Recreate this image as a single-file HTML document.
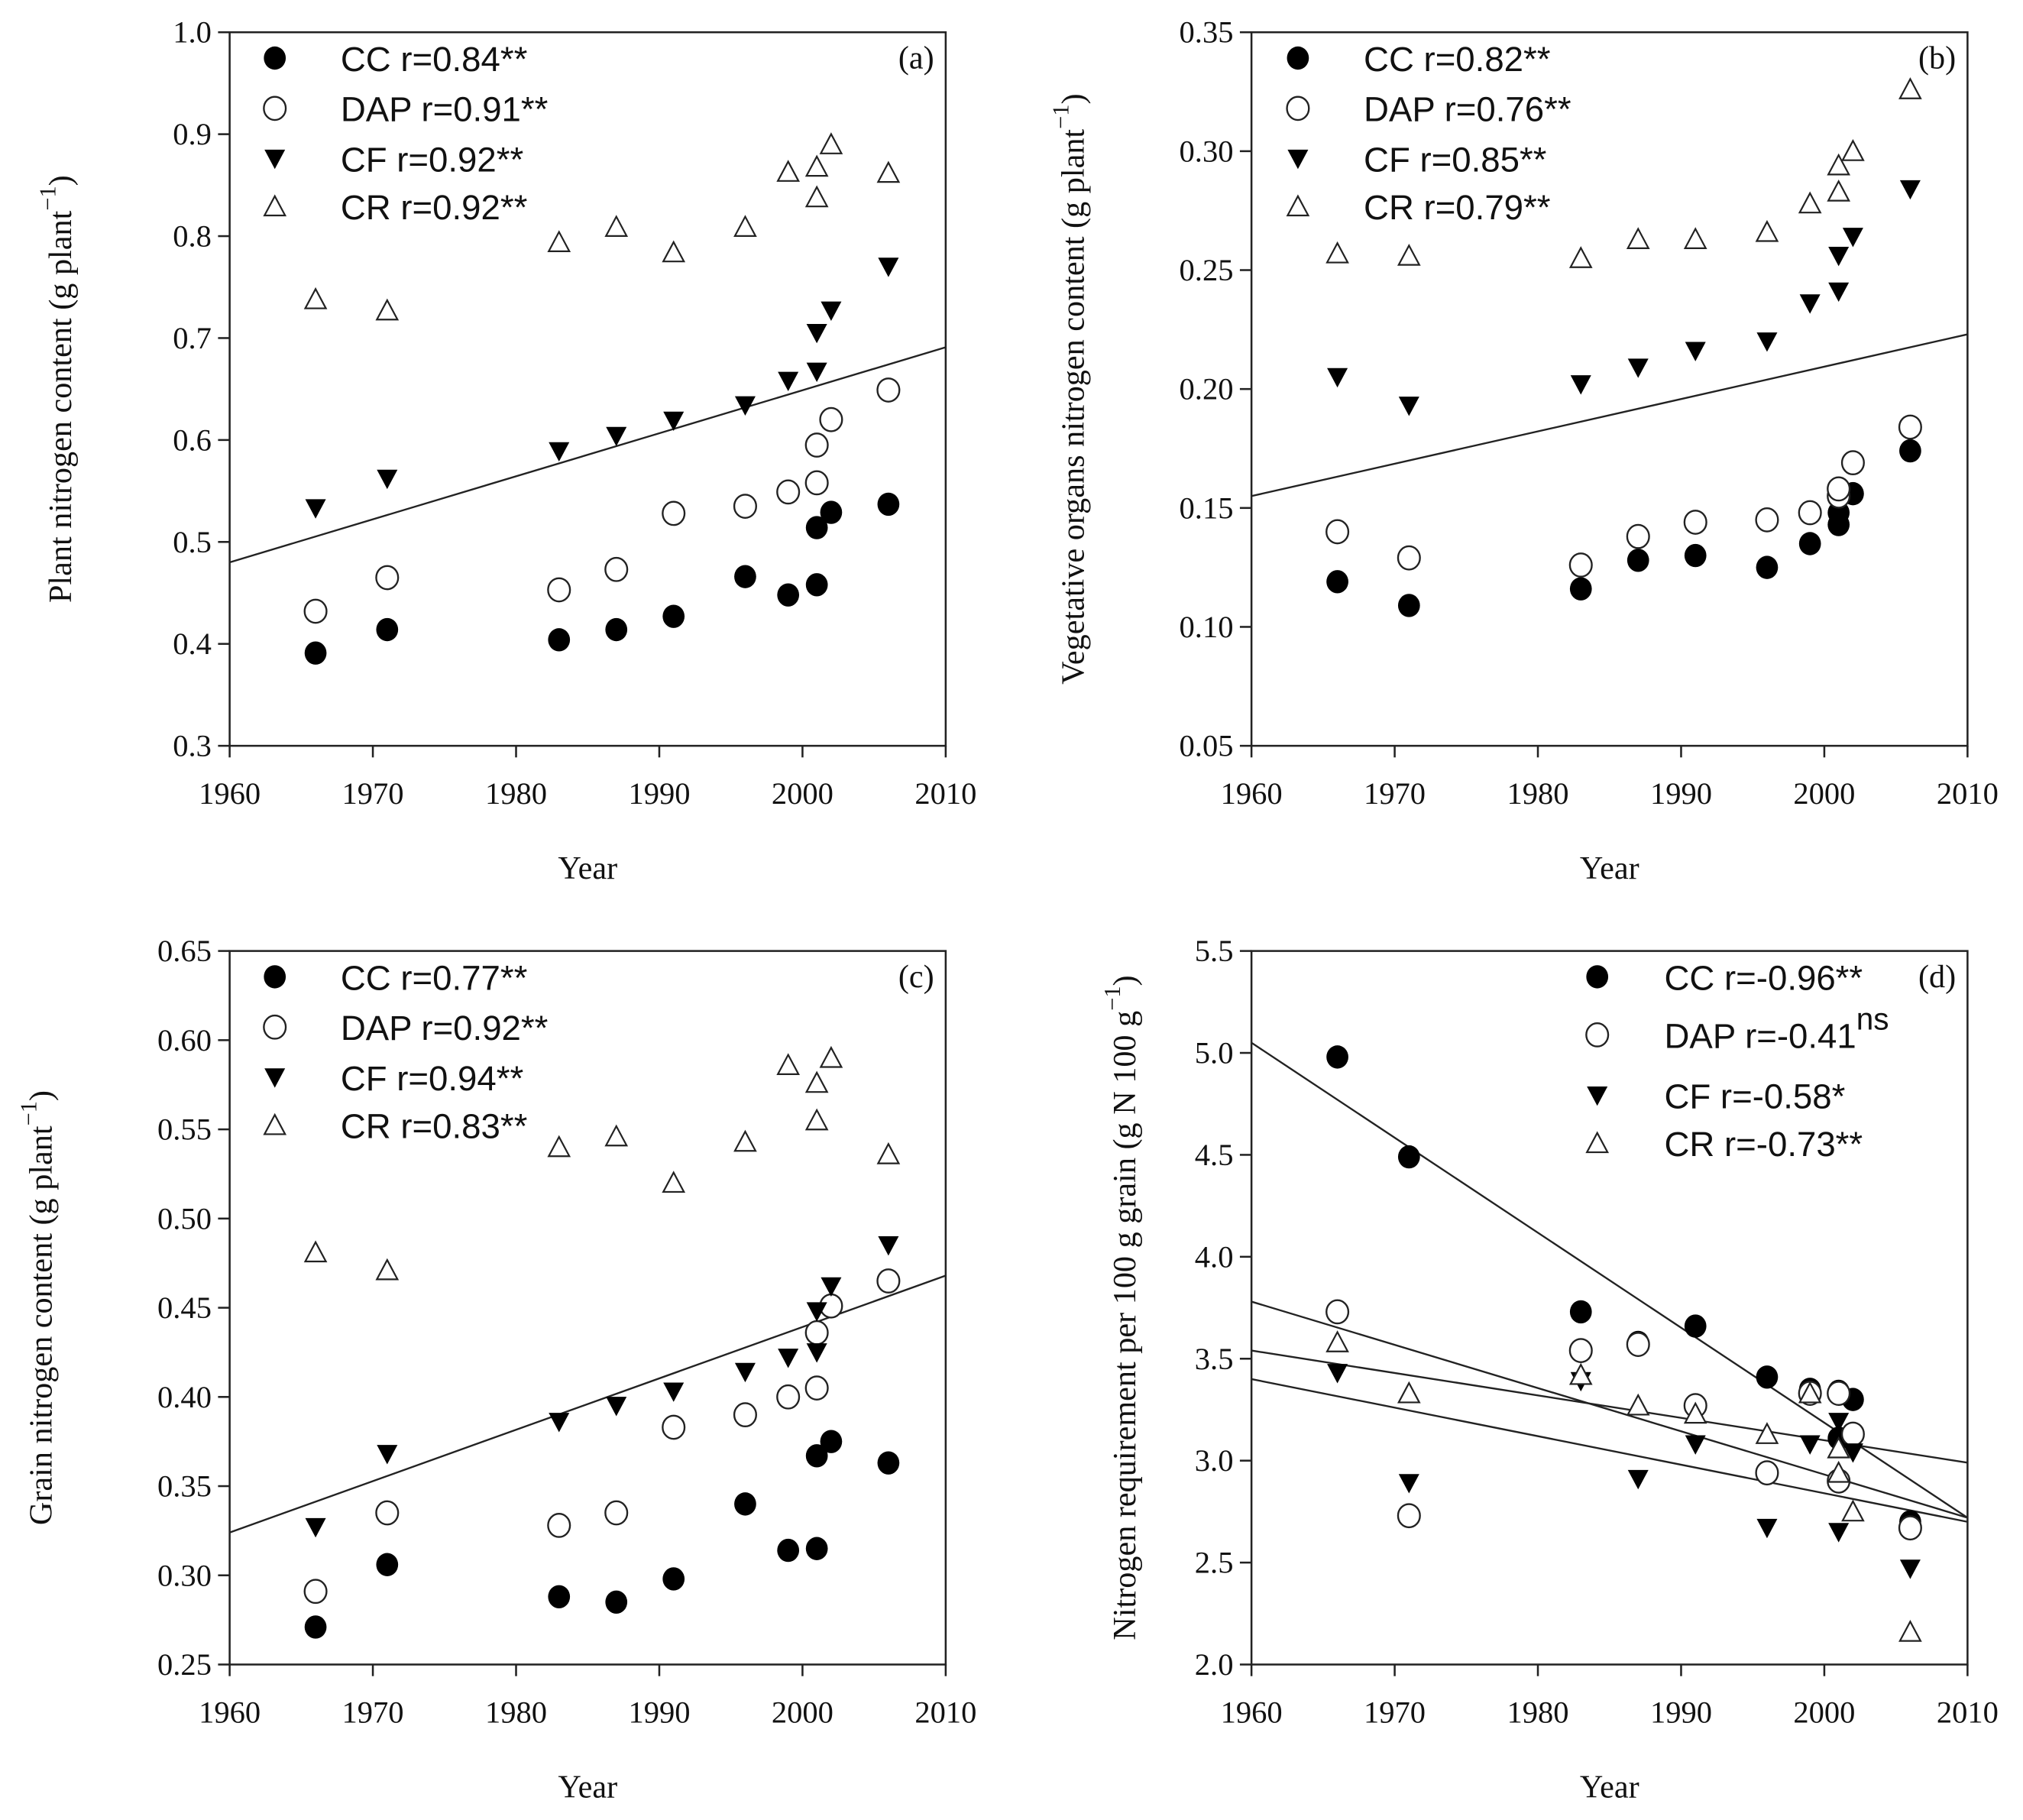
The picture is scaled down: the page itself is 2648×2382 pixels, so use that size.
<!DOCTYPE html>
<html><head><meta charset="utf-8">
<style>
html,body{margin:0;padding:0;background:#fff;}
svg{display:block;}
.tick{font-family:"Liberation Serif",serif;font-size:24px;fill:#111;}
.title{font-family:"Liberation Serif",serif;font-size:25px;fill:#111;}
.leg{font-family:"Liberation Sans",sans-serif;font-size:27px;fill:#111;}
</style></head>
<body>
<svg id="chart" width="2648" height="2382" viewBox="0 0 1568 1410.5" preserveAspectRatio="none" xmlns="http://www.w3.org/2000/svg"></svg>
<script>
const years = [1966,1971,1983,1987,1991,1996,1999,2001,2001,2002,2006];
// Panel a
const aCC  = [0.391,0.414,0.404,0.414,0.427,0.466,0.448,0.514,0.458,0.529,0.537];
const aDAP = [0.432,0.465,0.453,0.473,0.528,0.535,0.549,0.595,0.558,0.620,0.649];
const aCF  = [0.533,0.562,0.589,0.604,0.619,0.634,0.658,0.667,0.705,0.727,0.770];
const aCR  = [0.738,0.727,0.794,0.809,0.784,0.809,0.863,0.868,0.838,0.890,0.862];
const aLine = [[1960,0.480],[2010,0.691]];
const aLegend = ["CC r=0.84**","DAP r=0.91**","CF r=0.92**","CR r=0.92**"];
// Panel b
const bCC  = [0.119,0.109,0.116,0.128,0.130,0.125,0.135,0.143,0.148,0.156,0.174];
const bDAP = [0.140,0.129,0.126,0.138,0.144,0.145,0.148,0.155,0.158,0.169,0.184];
const bCF  = [0.205,0.193,0.202,0.209,0.216,0.220,0.236,0.241,0.256,0.264,0.284];
const bCR  = [0.257,0.256,0.255,0.263,0.263,0.266,0.278,0.283,0.294,0.300,0.326];
const bLine = [[1960,0.155],[2010,0.223]];
const bLegend = ["CC r=0.82**","DAP r=0.76**","CF r=0.85**","CR r=0.79**"];
// Panel c
const cCC  = [0.271,0.306,0.288,0.285,0.298,0.340,0.314,0.315,0.367,0.375,0.363];
const cDAP = [0.291,0.335,0.328,0.335,0.383,0.390,0.400,0.405,0.436,0.451,0.465];
const cCF  = [0.327,0.368,0.386,0.395,0.403,0.414,0.422,0.425,0.448,0.462,0.485];
const cCR  = [0.481,0.471,0.540,0.546,0.520,0.543,0.586,0.576,0.555,0.590,0.536];
const cLine = [[1960,0.324],[2010,0.468]];
const cLegend = ["CC r=0.77**","DAP r=0.92**","CF r=0.94**","CR r=0.83**"];
// Panel d
const dCC  = [4.98,4.49,3.73,3.58,3.66,3.41,3.35,3.34,3.11,3.30,2.70];
const dDAP = [3.73,2.73,3.54,3.57,3.27,2.94,3.33,3.33,2.90,3.13,2.67];
const dCF  = [3.43,2.89,3.39,2.91,3.08,2.67,3.08,2.65,3.19,3.04,2.47];
const dCR  = [3.58,3.33,3.42,3.27,3.23,3.13,3.33,3.06,2.94,2.75,2.16];
const dLines = [[[1960,5.05],[2010,2.72]],[[1960,3.78],[2010,2.72]],[[1960,3.54],[2010,2.99]],[[1960,3.40],[2010,2.70]]];
const dLegend = ["CC  r=-0.96**","DAP r=-0.41","CF r=-0.58*","CR  r=-0.73**"];
const xTicks = [1960,1970,1980,1990,2000,2010];

const NS="http://www.w3.org/2000/svg";
const svg=document.getElementById('chart');
function el(tag,attrs,parent){const e=document.createElementNS(NS,tag);for(const k in attrs)e.setAttribute(k,attrs[k]);(parent||svg).appendChild(e);return e;}

function panel(cfg){
  const g=el('g',{});
  
  
  const L=cfg.x0,R=cfg.x0+555,T=cfg.y0,B=cfg.y0+553;
  const sx=v=>L+(v-1960)/50*(R-L);
  const sy=v=>B-(v-cfg.ymin)/(cfg.ymax-cfg.ymin)*(B-T);
  const frame=el('rect',{x:L,y:T,width:R-L,height:B-T,fill:'none',stroke:'#222','stroke-width':1.5},g);
  
  
  cfg.yticks.forEach(t=>{
    el('line',{x1:L-9,x2:L,y1:sy(t),y2:sy(t),stroke:'#222','stroke-width':1.5},g);
    const tx=el('text',{x:L-14,y:sy(t)+8,'text-anchor':'end',class:'tick'},g);
    tx.textContent=t.toFixed(cfg.dec);
    
    
  });
  xTicks.forEach(t=>{
    el('line',{x1:sx(t),x2:sx(t),y1:B,y2:B+9,stroke:'#222','stroke-width':1.5},g);
    const tx=el('text',{x:sx(t),y:B+45,'text-anchor':'middle',class:'tick'},g);
    tx.textContent=t;
    
    
  });
  const xt=el('text',{x:(L+R)/2,y:B+103,'text-anchor':'middle',class:'title'},g);
  xt.textContent='Year';
  
  
  const yt=el('text',{transform:`translate(${cfg.ytx},${(T+B)/2}) rotate(-90)`,'text-anchor':'middle',class:'title'},g);
  yt.innerHTML=cfg.ytitle;
  
  
  const pl=el('text',{x:R-9,y:T+28,'text-anchor':'end',class:'title'},g);
  pl.textContent='('+cfg.id+')';
  
  
  cfg.lines.forEach(ln=>{
    const l=el('line',{x1:sx(ln[0][0]),y1:sy(ln[0][1]),x2:sx(ln[1][0]),y2:sy(ln[1][1]),stroke:'#222','stroke-width':1.4},g);
    
    
  });
  const series=[['cc',cfg.cc],['dap',cfg.dap],['cf',cfg.cf],['cr',cfg.cr]];
  series.forEach(([k,vals])=>{
    vals.forEach((v,i)=>{
      const m=marker(k,sx(years[i]),sy(v),g);
      
      
    });
  });
  cfg.legend.forEach((txt,i)=>{
    const ly=cfg.legY[i];
    const m=marker(series[i][0],cfg.legMx,ly,g);
    
    
    const t=el('text',{x:cfg.legTx,y:ly+10,class:'leg'},g);
    t.textContent=txt;
    if(cfg.id==='d'&&i===1){const s=el('tspan',{dy:-14,'font-size':24},t);s.textContent='ns';}
    
    
  });
}
function marker(k,x,y,g){
  const r=8.5;
  if(k==='cc')return el('ellipse',{cx:x,cy:y,rx:r,ry:r+0.5,fill:'#000'},g);
  if(k==='dap')return el('ellipse',{cx:x,cy:y,rx:r,ry:r+0.5,fill:'#fff',stroke:'#222','stroke-width':1.4},g);
  if(k==='cf')return el('polygon',{points:`${x-8},${y-7} ${x+8},${y-7} ${x},${y+8}`,fill:'#000'},g);
  return el('polygon',{points:`${x-8},${y+7} ${x+8},${y+7} ${x},${y-8}`,fill:'#fff',stroke:'#222','stroke-width':1.3},g);
}
const legY=[45,84,123,160];
const sup=s=>`<tspan>${s}</tspan><tspan dy="-12" font-size="18">\u22121</tspan><tspan dy="12">)</tspan>`;
panel({id:'a',x0:178,y0:25,ymin:0.3,ymax:1.0,yticks:[0.3,0.4,0.5,0.6,0.7,0.8,0.9,1.0],dec:1,ytx:55,
  ytitle:sup('Plant  nitrogen content (g plant'),cc:aCC,dap:aDAP,cf:aCF,cr:aCR,lines:[aLine],legend:aLegend,legY:legY,legMx:213,legTx:264});
panel({id:'b',x0:970,y0:25,ymin:0.05,ymax:0.35,yticks:[0.05,0.10,0.15,0.20,0.25,0.30,0.35],dec:2,ytx:840,
  ytitle:sup('Vegetative organs nitrogen content (g plant'),cc:bCC,dap:bDAP,cf:bCF,cr:bCR,lines:[bLine],legend:bLegend,legY:legY,legMx:1006,legTx:1057});
panel({id:'c',x0:178,y0:737,ymin:0.25,ymax:0.65,yticks:[0.25,0.30,0.35,0.40,0.45,0.50,0.55,0.60,0.65],dec:2,ytx:40,
  ytitle:sup('Grain  nitrogen content (g plant'),cc:cCC,dap:cDAP,cf:cCF,cr:cCR,lines:[cLine],legend:cLegend,legY:legY.map(v=>v+712),legMx:213,legTx:264});
panel({id:'d',x0:970,y0:737,ymin:2.0,ymax:5.5,yticks:[2.0,2.5,3.0,3.5,4.0,4.5,5.0,5.5],dec:1,ytx:880,
  ytitle:'<tspan>Nitrogen requirement per 100 g  grain (g N 100 g</tspan><tspan dy="-12" font-size="18">\u22121</tspan><tspan dy="12">)</tspan>',
  cc:dCC,dap:dDAP,cf:dCF,cr:dCR,lines:dLines,legend:dLegend,legY:[757,802,849,886],legMx:1238,legTx:1290});
</script>
</body></html>
